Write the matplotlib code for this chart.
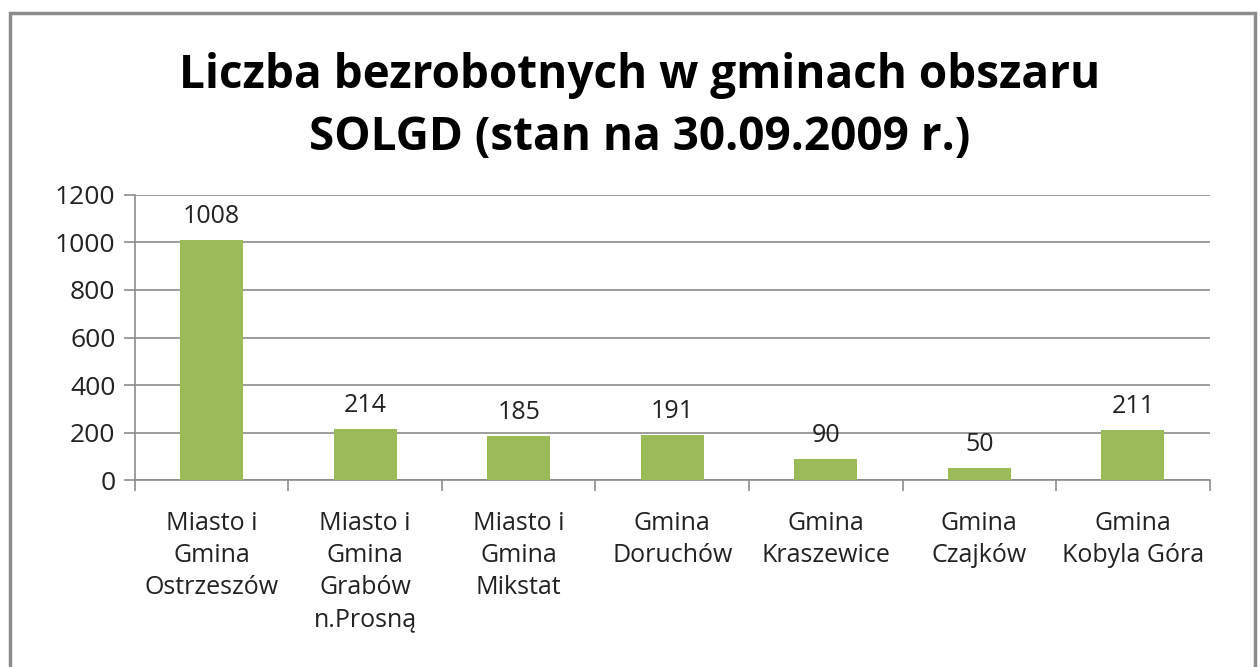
import numpy as np
import matplotlib.pyplot as plt
from matplotlib.patches import Rectangle

categories = ['Miasto i\nGmina\nOstrzeszów', 'Miasto i\nGmina\nGrabów\nn.Prosną',
              'Miasto i\nGmina\nMikstat', 'Gmina\nDoruchów', 'Gmina\nKraszewice',
              'Gmina\nCzajków', 'Gmina\nKobyla Góra']
values = [1008, 214, 185, 191, 90, 50, 211]
yticks = [0, 200, 400, 600, 800, 1000, 1200]

plt.rcParams['font.family'] = ['Open Sans', 'DejaVu Sans']

fig = plt.figure(figsize=(12.6, 6.67), dpi=100)
ax = fig.add_axes([0.107, 0.280, 0.853, 0.428])

x = np.arange(len(values))
ax.bar(x, values, width=0.41, color='#9BBB59', zorder=3)
for xi, v in zip(x, values):
    ax.annotate(str(v), (xi, v), xytext=(0, 8), textcoords='offset points',
                ha='center', va='bottom', fontsize=18, color='#222222')

ax.set_xlim(-0.5, len(values) - 0.5)
ax.set_ylim(0, 1200)
ax.set_yticks(yticks)
ax.set_yticklabels([str(t) for t in yticks], fontsize=19, color='#222222')
ax.yaxis.grid(True, color='#8c8c8c', linewidth=1.2, zorder=0)

# category labels centred, ticks on category boundaries
ax.set_xticks(x)
ax.set_xticklabels(categories, fontsize=18, linespacing=1.38, color='#222222')
ax.tick_params(axis='x', length=0, pad=22)
ax.set_xticks(np.arange(-0.5, len(values)), minor=True)
ax.tick_params(axis='x', which='minor', length=8, color='#8c8c8c', width=1.2)
ax.tick_params(axis='y', length=8, color='#8c8c8c', width=1.2, pad=6)

for s in ['top', 'right']:
    ax.spines[s].set_visible(False)
for s in ['left', 'bottom']:
    ax.spines[s].set_color('#8c8c8c')
    ax.spines[s].set_linewidth(1.2)

fig.text(0.508, 0.840, 'Liczba bezrobotnych w gminach obszaru\nSOLGD (stan na 30.09.2009 r.)',
         ha='center', va='center', fontsize=33, fontweight='bold', linespacing=1.42)

fig.patches.append(Rectangle((10 / 1260, -0.05), 1245 / 1260, 1.05 - 13 / 667,
                             transform=fig.transFigure, fill=False,
                             edgecolor='#8c8c8c', linewidth=2.5))

fig.savefig('out.png', dpi=100)
